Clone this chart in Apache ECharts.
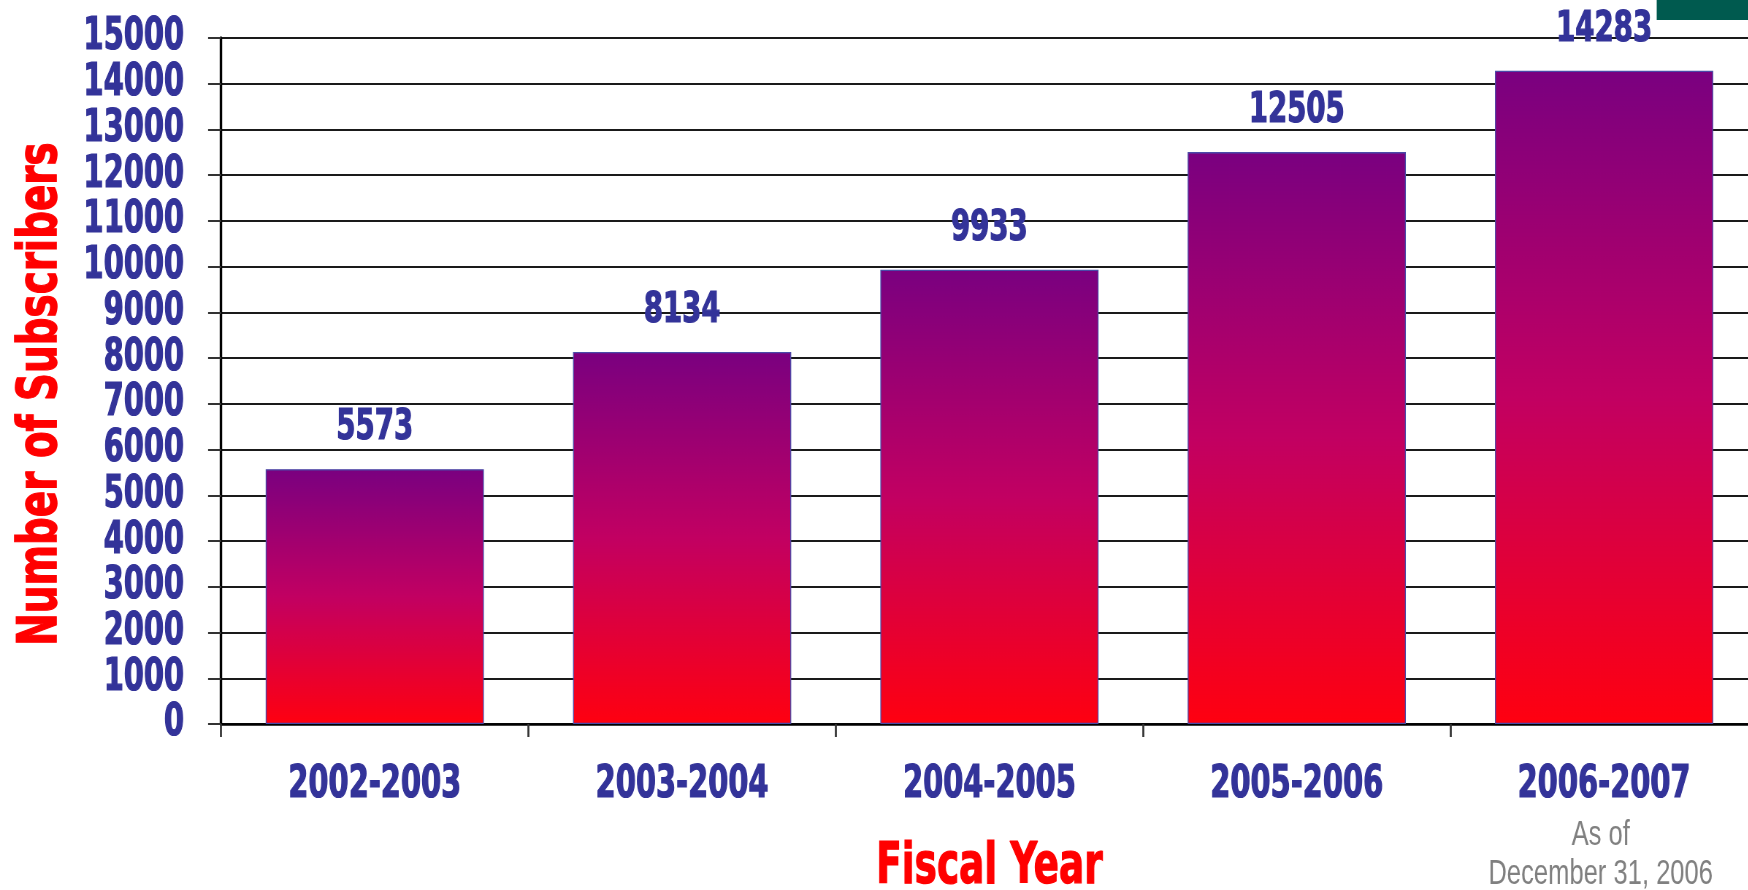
<!DOCTYPE html>
<html>
<head>
<meta charset="utf-8">
<script src="https://cdn.jsdelivr.net/npm/echarts@6/dist/echarts.min.js"></script>
<style>
html,body{margin:0;padding:0;background:#fff;overflow:hidden;width:1748px;height:890px;}
#frame{width:1748px;height:890px;overflow:hidden;position:relative;}
#chart{height:890px;position:absolute;left:0;top:0;transform-origin:0 0;}
</style>
</head>
<body>
<div id="frame"><div id="chart"></div></div>
<script>
const categories = ['2002-2003', '2003-2004', '2004-2005', '2005-2006', '2006-2007'];
const subscribers = [5573, 8134, 9933, 12505, 14283];
const yTicks = { min: 0, max: 15000, interval: 1000 };
const yAxisTitle = 'Number of Subscribers';
const xAxisTitle = 'Fiscal Year';
const noteText = 'As of\nDecember 31, 2006';

// The whole chart is drawn wide and squeezed horizontally, so that the
// available fonts take on the tall, condensed look of the original lettering.
const SX = 0.73;
const W = 1748 / SX;
const el = document.getElementById('chart');
el.style.width = W + 'px';
el.style.transform = 'scaleX(' + SX + ')';

const FONT = "'DejaVu Sans Condensed', 'DejaVu Sans', sans-serif";
const BLUE = '#333399';
const RED = '#ff0000';
const heavy = function (c) { return { textBorderColor: c, textBorderWidth: 1.2 }; };

const chart = echarts.init(el, null, { renderer: 'canvas', width: W, height: 890 });
chart.setOption({
  animation: false,
  backgroundColor: '#ffffff',
  grid: { left: 221 / SX, right: -9 / SX, top: 38, bottom: 166, outerBoundsMode: 'none', containLabel: false },
  xAxis: {
    type: 'category',
    data: categories,
    boundaryGap: true,
    name: xAxisTitle,
    nameLocation: 'middle',
    nameGap: 116,
    nameTextStyle: Object.assign({ color: RED, fontFamily: FONT, fontWeight: 'bold', fontSize: 57 }, heavy(RED)),
    axisLine: { show: true, lineStyle: { color: '#000', width: 2.5 } },
    axisTick: { show: true, length: 13, alignWithLabel: false, lineStyle: { color: '#333', width: 2 / SX } },
    axisLabel: Object.assign({ interval: 0, margin: 40, color: BLUE, fontFamily: FONT, fontWeight: 'bold', fontSize: 44 }, heavy(BLUE)),
    splitLine: { show: false }
  },
  yAxis: {
    type: 'value',
    min: yTicks.min,
    max: yTicks.max,
    interval: yTicks.interval,
    axisLine: { show: true, lineStyle: { color: '#000', width: 2.5 / SX } },
    axisTick: { show: true, length: 13 / SX, lineStyle: { color: '#333', width: 2 } },
    axisLabel: Object.assign({
      margin: 37 / SX, color: BLUE, fontFamily: FONT, fontWeight: 'bold', fontSize: 44,
      formatter: function (v) { return String(v); }
    }, heavy(BLUE)),
    splitLine: { show: true, lineStyle: { color: '#1a1a1a', width: 2 } }
  },
  series: [{
    type: 'bar',
    data: subscribers,
    barCategoryGap: '29%',
    itemStyle: {
      borderColor: '#4a4aa8',
      borderWidth: 1.3,
      color: new echarts.graphic.LinearGradient(0, 0, 0, 1, [
        { offset: 0, color: '#7a0080' },
        { offset: 0.5, color: '#c20062' },
        { offset: 1, color: '#ff0010' }
      ])
    },
    label: Object.assign({
      show: true,
      position: 'top',
      distance: 20,
      color: BLUE,
      fontFamily: FONT,
      fontWeight: 'bold',
      fontSize: 42
    }, heavy(BLUE))
  }],
  graphic: [
    {
      type: 'rect',
      shape: { x: 1656 / SX, y: 0, width: 200, height: 20 },
      style: { fill: '#005a4f' },
      silent: true
    },
    {
      type: 'text',
      x: 42 / SX,
      y: 394,
      rotation: Math.PI / 2,
      scaleX: 0.80,
      scaleY: 1.016 / SX,
      style: {
        text: yAxisTitle,
        fill: RED,
        stroke: RED,
        lineWidth: 1.2,
        font: "bold 54px 'DejaVu Sans Condensed', 'DejaVu Sans', sans-serif",
        textAlign: 'center',
        textVerticalAlign: 'middle'
      },
      silent: true
    },
    {
      type: 'text',
      x: 1600 / SX,
      y: 816,
      style: {
        text: noteText,
        fill: '#808080',
        font: "35px 'Liberation Sans', Arial, sans-serif",
        textAlign: 'center',
        textVerticalAlign: 'top',
        lineHeight: 39
      },
      silent: true
    }
  ]
});
</script>
</body>
</html>
